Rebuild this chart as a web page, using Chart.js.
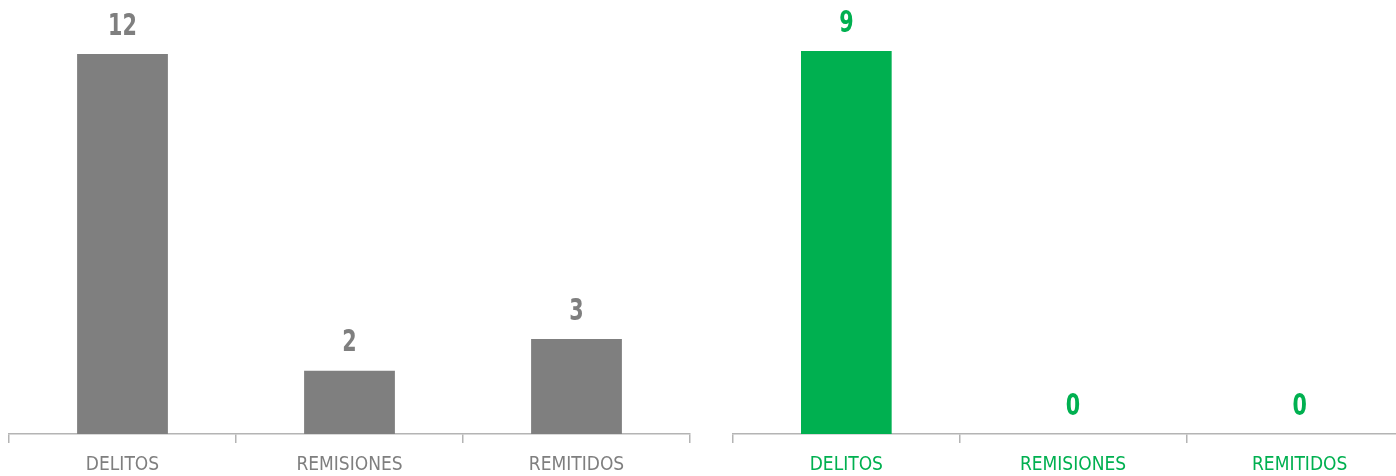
<!DOCTYPE html>
<html>
<head>
<meta charset="utf-8">
<script src="https://cdn.jsdelivr.net/npm/chart.js@4.4.1/dist/chart.umd.min.js"></script>
<style>
  html, body { margin: 0; padding: 0; background: #fff; overflow: hidden; width: 1396px; height: 476px; }
  .box { position: absolute; top: 0; height: 488px; }
  #leftBox { left: 0; width: 700px; }
  #rightBox { left: 700px; width: 713px; }
</style>
</head>
<body>
<div class="box" id="leftBox"><canvas id="leftChart"></canvas></div>
<div class="box" id="rightBox"><canvas id="rightChart"></canvas></div>
<script>
const categories = ['DELITOS', 'REMISIONES', 'REMITIDOS'];
const leftValues = [12, 2, 3];
const rightValues = [9, 0, 0];
const leftColor = '#7f7f7f';
const rightColor = '#00b050';
const FONT = '"Liberation Sans Narrow", "DejaVu Sans Condensed", "Liberation Sans", sans-serif';

const valueLabels = {
  id: 'valueLabels',
  afterDatasetsDraw(chart, args, opts) {
    const ctx = chart.ctx;
    const meta = chart.getDatasetMeta(0);
    const data = chart.data.datasets[0].data;
    ctx.save();
    ctx.fillStyle = opts.color;
    ctx.font = 'bold 23px ' + FONT;
    ctx.textAlign = 'center';
    ctx.textBaseline = 'alphabetic';
    meta.data.forEach((bar, i) => {
      ctx.save();
      ctx.translate(bar.x, bar.y - 19.5);
      ctx.scale(1, 1.3);
      ctx.fillText(String(data[i]), 0, 0);
      ctx.restore();
    });
    ctx.restore();
  }
};

function makeChart(id, values, color, maxV, pad) {
  return new Chart(document.getElementById(id), {
    type: 'bar',
    data: {
      labels: categories,
      datasets: [{
        data: values,
        backgroundColor: color,
        borderWidth: 0,
        categoryPercentage: 1.0,
        barPercentage: 0.4
      }]
    },
    options: {
      responsive: true,
      maintainAspectRatio: false,
      animation: false,
      layout: { padding: pad },
      plugins: {
        legend: { display: false },
        tooltip: { enabled: false },
        valueLabels: { color: color }
      },
      scales: {
        y: { display: false, min: 0, max: maxV },
        x: {
          border: { display: true, color: '#b4b4b4', width: 1.5 },
          grid: { display: true, drawOnChartArea: false, drawTicks: true, tickLength: 9, color: '#b4b4b4', lineWidth: 1.5, offset: true },
          ticks: { color: color, font: { family: FONT, size: 19, lineHeight: 1.0 }, padding: 13, maxRotation: 0 }
        }
      }
    },
    plugins: [valueLabels]
  });
}

makeChart('leftChart', leftValues, leftColor, 12, { top: 54, left: 9, right: 10, bottom: 0 });
makeChart('rightChart', rightValues, rightColor, 9, { top: 51, left: 33, right: 0, bottom: 0 });
</script>
</body>
</html>
